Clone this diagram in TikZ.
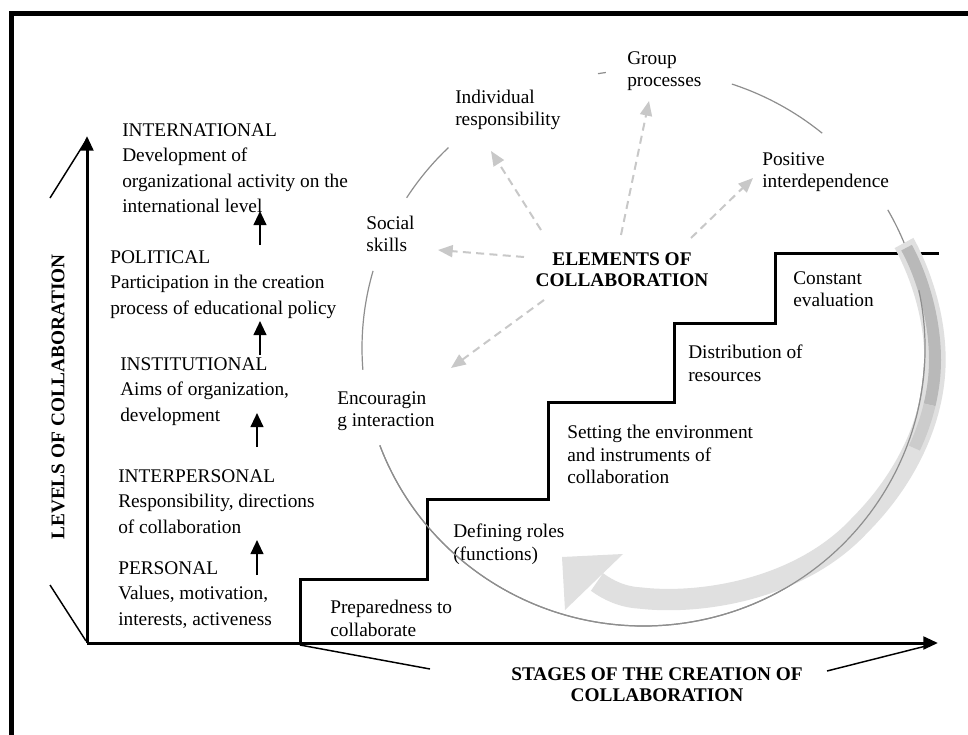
\documentclass[tikz,border=0pt]{standalone}
\usepackage{fontspec}
\setmainfont{Liberation Serif}
\usetikzlibrary{arrows.meta}
\definecolor{circgray}{HTML}{8E8E8E}
\definecolor{dashgray}{HTML}{C8C8C8}
\definecolor{bandlight}{HTML}{E0E0E0}
\definecolor{banddark}{HTML}{B9B9B9}
\definecolor{bandmid}{HTML}{CCCCCC}
\begin{document}
\begin{tikzpicture}[x=0.75pt,y=-0.75pt,
  lvl/.style={anchor=north west,inner sep=0pt,align=left,font=\fontsize{14.5pt}{19.1pt}\selectfont},
  elt/.style={anchor=north west,inner sep=0pt,align=left,font=\fontsize{14.5pt}{16.6pt}\selectfont},
  stp/.style={anchor=north west,inner sep=0pt,align=left,font=\fontsize{14.5pt}{16.9pt}\selectfont},
  boldlab/.style={anchor=north,inner sep=0pt,align=center,font=\bfseries\fontsize{14.5pt}{16pt}\selectfont},
  circ/.style={draw=circgray,line width=0.9pt},
  dsh/.style={draw=dashgray,line width=1.5pt,dash pattern=on 6pt off 4pt,-{Triangle[length=11pt,width=9pt,fill=dashgray]}},
  axis/.style={line width=2.25pt,-{Triangle[length=11pt,width=9.5pt]}},
  lvlarrow/.style={line width=1.5pt,-{Triangle[length=10.5pt,width=9.5pt]}},
  thin/.style={line width=1.1pt},
  stairline/.style={line width=2.25pt,line join=miter}
]
\useasboundingbox (0,0) rectangle (968,735);
\fill[white] (0,0) rectangle (968,735);

% frame
\draw[line width=3.5pt,line join=miter] (11.5,735) -- (11.5,13.5) -- (968,13.5);

% ellipse (circle) arcs
\draw[circ] (643.5,348) ++(-133.85:281.5 and 278) arc[start angle=-133.85,end angle=-147.3,x radius=281.5,y radius=278];
\draw[circ] (643.5,348) ++(-163.9:281.5 and 278) arc[start angle=-163.9,end angle=-184.5,x radius=281.5,y radius=278];
\draw[circ] (643.5,348) ++(-99.3:281.5 and 278) arc[start angle=-99.3,end angle=-97.7,x radius=281.5,y radius=278];
\draw[circ] (643.5,348) ++(-71.7:281.5 and 278) arc[start angle=-71.7,end angle=-50.6,x radius=281.5,y radius=278];
\draw[circ] (643.5,348) ++(-29.8:281.5 and 278) arc[start angle=-29.8,end angle=159.5,x radius=281.5,y radius=278];

% axes
\coordinate (O) at (87,643);
\coordinate (Ytip) at (87,136);
\coordinate (Xtip) at (938,643);
\draw[axis] (O) -- (Ytip);
\draw[axis] (O) -- (Xtip);

% thin slanted lines
\coordinate (t1a) at (50,198); \coordinate (t1b) at (87,139);
\coordinate (t2a) at (50,585); \coordinate (t2b) at (86,641);
\coordinate (t3a) at (300,645); \coordinate (t3b) at (430,669);
\coordinate (t4a) at (827,671); \coordinate (t4b) at (930,645);
\draw[thin] (t1a) -- (t1b);
\draw[thin] (t2a) -- (t2b);
\draw[thin] (t3a) -- (t3b);
\draw[thin] (t4a) -- (t4b);

% axis labels
\node[rotate=90,inner sep=0pt,font=\bfseries\fontsize{14.5pt}{16pt}\selectfont] (ylab) at (58,397) {LEVELS OF COLLABORATION};
\node[boldlab] (xlab) at (657,667) {STAGES OF THE CREATION OF\\COLLABORATION};

% levels
\node[lvl] (intl) at (122,123) {INTERNATIONAL\\Development of\\organizational activity on the\\international level};
\node[lvl] (polit) at (110,250) {POLITICAL\\Participation in the creation\\process of educational policy};
\node[lvl] (inst) at (120,357) {INSTITUTIONAL\\Aims of organization,\\development};
\node[lvl] (inter) at (118,469) {INTERPERSONAL\\Responsibility, directions\\of collaboration};
\node[lvl] (pers) at (118,561) {PERSONAL\\Values, motivation,\\interests, activeness};

% level arrows
\coordinate (la1) at (257,575); \coordinate (lb1) at (257,540);
\coordinate (la2) at (257,447); \coordinate (lb2) at (257,413);
\coordinate (la3) at (260,355); \coordinate (lb3) at (260,321);
\coordinate (la4) at (260,245); \coordinate (lb4) at (260,211);
\draw[lvlarrow] (la1) -- (lb1);
\draw[lvlarrow] (la2) -- (lb2);
\draw[lvlarrow] (la3) -- (lb3);
\draw[lvlarrow] (la4) -- (lb4);

% elements
\node[elt] (indiv) at (455,90) {Individual\\responsibility};
\node[elt] (group) at (627,51) {Group\\processes};
\node[elt] (posit) at (762,152) {Positive\\interdependence};
\node[elt] (social) at (366,216) {Social\\skills};
\node[elt] (encour) at (337,391) {Encouragin\\g interaction};
\node[boldlab] (elem) at (622,252) {ELEMENTS OF\\COLLABORATION};

% dashed arrows
\coordinate (ds1) at (524,257); \coordinate (de1) at (438,250);
\coordinate (ds2) at (541,230); \coordinate (de2) at (491,151);
\coordinate (ds3) at (621,235); \coordinate (de3) at (649,101);
\coordinate (ds4) at (691,238); \coordinate (de4) at (753,178);
\coordinate (ds5) at (544,300); \coordinate (de5) at (451,368);
\draw[dsh] (ds1) -- (de1);
\draw[dsh] (ds2) -- (de2);
\draw[dsh] (ds3) -- (de3);
\draw[dsh] (ds4) -- (de4);
\draw[dsh] (ds5) -- (de5);

% stairs
\draw[stairline] (300,642) -- (300,579) -- (427,579) -- (427,499) -- (548,499) -- (548,402) -- (674,402) -- (674,323) -- (775,323) -- (775,253) -- (939,253);

% stage labels
\node[stp] (prep) at (330,600) {Preparedness to\\collaborate};
\node[stp] (defin) at (453,524) {Defining roles\\(functions)};
\node[stp] (sett) at (567,425) {Setting the environment\\and instruments of\\collaboration};
\node[stp] (distr) at (688,345) {Distribution of\\resources};
\node[stp] (const) at (793,271) {Constant\\evaluation};

% big gray curved arrow
\draw[bandlight,line width=16pt] (904,243) .. controls (920,272) and (935,315) .. (935,360)
  .. controls (935,420) and (905,480) .. (860,525)
  .. controls (800,590) and (700,605) .. (640,598)
  .. controls (622,597) and (608,590) .. (597,582);
\fill[bandlight] (562,557) -- (623,554) -- (565,610) -- cycle;
\draw[banddark,line width=9pt,shorten <=4pt] (904,243) .. controls (920,272) and (935,315) .. (935,360)
  .. controls (935,375) and (933.1,390) .. (929.6,404.8);
\draw[bandmid,line width=9pt] (929.6,404.8) .. controls (926.1,419.5) and (920.95,434.05) .. (914.4,448.1);

% circle part over the arrow
\draw[circ] (643.5,348) ++(-12:281.5 and 278) arc[start angle=-12,end angle=159.5,x radius=281.5,y radius=278];
\end{tikzpicture}
\end{document}
